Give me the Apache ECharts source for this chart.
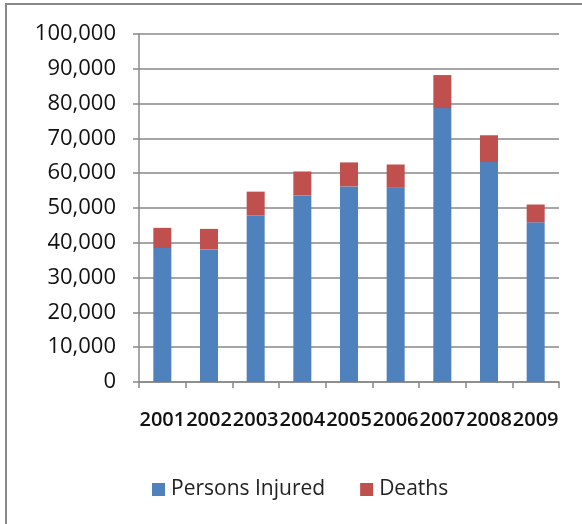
<!DOCTYPE html>
<html>
<head>
<meta charset="utf-8">
<script src="https://cdn.jsdelivr.net/npm/echarts@6/dist/echarts.min.js"></script>
<style>
html,body{margin:0;padding:0;background:#fff;}
#c{width:582px;height:524px;}
</style>
</head>
<body>
<div id="c"></div>
<script>
const years = ['2001','2002','2003','2004','2005','2006','2007','2008','2009'];
const injured = [38500, 38100, 47800, 53600, 56200, 55800, 78700, 63200, 45900];
const deaths = [5800, 5900, 6900, 6900, 6900, 6700, 9500, 7700, 5100];
const yTicks = {min: 0, max: 100000, interval: 10000};

const chart = echarts.init(document.getElementById('c'), null, {renderer: 'canvas'});
const gray = '#888888';
chart.setOption({
  animation: false,
  backgroundColor: '#ffffff',
  graphic: [{
    type: 'rect', shape: {x: 6, y: 4, width: 700, height: 700},
    style: {fill: 'none', stroke: gray, lineWidth: 2}, silent: true, z: -1
  }],
  grid: {left: 139, right: 23, top: 34, bottom: 142, containLabel: false},
  legend: {
    left: 147, top: 474, itemWidth: 13, itemHeight: 13, itemGap: 35,
    icon: 'rect',
    textStyle: {fontFamily: 'Open Sans', fontSize: 21, color: '#222', padding: [0,0,0,1]},
    data: ['Persons Injured', 'Deaths']
  },
  xAxis: {
    type: 'category', data: years,
    axisLine: {lineStyle: {color: gray, width: 1.5}},
    axisTick: {show: true, length: 6, lineStyle: {color: gray, width: 1.5}},
    axisLabel: {interval: 0, margin: 28, fontFamily: 'Open Sans', fontWeight: 600, fontSize: 20, color: '#111'}
  },
  yAxis: {
    type: 'value', min: yTicks.min, max: yTicks.max, interval: yTicks.interval,
    axisLine: {show: true, lineStyle: {color: gray, width: 1.5}},
    axisTick: {show: true, length: 6, lineStyle: {color: gray, width: 1.5}},
    splitLine: {show: true, lineStyle: {color: gray, width: 1.5}},
    axisLabel: {
      margin: 23, fontFamily: 'Open Sans', fontSize: 22, color: '#111',
      formatter: v => v.toLocaleString('en-US')
    }
  },
  series: [
    {name: 'Persons Injured', type: 'bar', stack: 'a', data: injured,
     barWidth: 18, itemStyle: {color: '#4F81BD'}},
    {name: 'Deaths', type: 'bar', stack: 'a', data: deaths,
     barWidth: 18, itemStyle: {color: '#C0504D'}}
  ]
});
</script>
</body>
</html>
